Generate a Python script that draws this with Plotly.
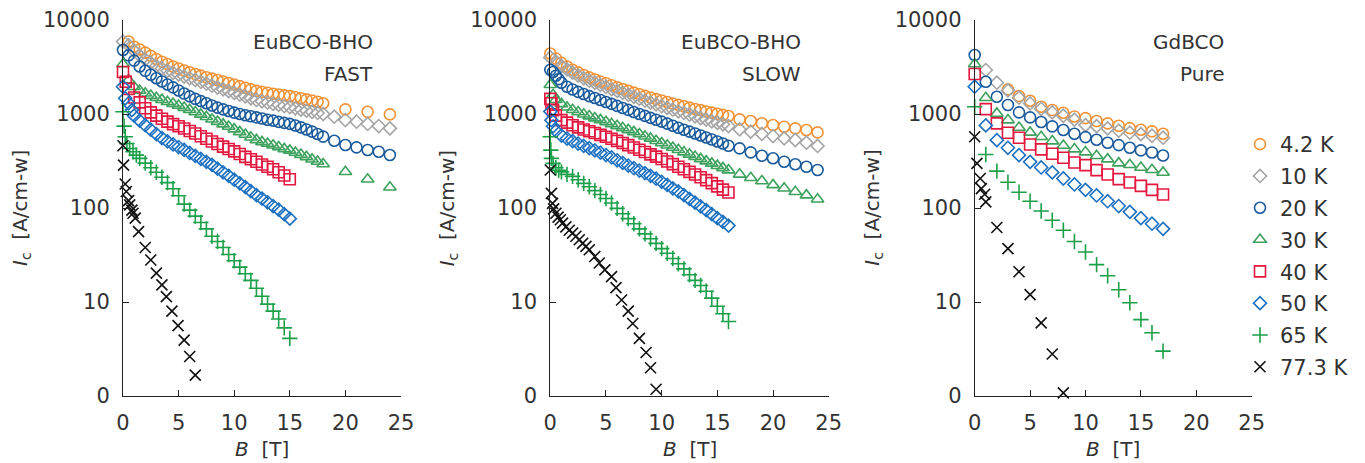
import plotly.graph_objects as go

# ---------------- categories / labels ----------------
temps = ["4.2 K", "10 K", "20 K", "30 K", "40 K", "50 K", "65 K", "77.3 K"]
panel_titles = [("EuBCO-BHO", "FAST"), ("EuBCO-BHO", "SLOW"), ("GdBCO", "Pure")]
y_tickvals = [1, 10, 100, 1000, 10000]
y_ticktext = ["0", "10", "100", "1000", "10000"]
x_tickvals = [0, 5, 10, 15, 20, 25]

# ---------------- panel 1 : EuBCO-BHO FAST ----------------
f_b_42 = [0.5, 1, 1.5, 2, 2.5, 3, 3.5, 4, 4.5, 5, 5.5, 6, 6.5, 7, 7.5, 8, 8.5, 9, 9.5, 10,
          10.5, 11, 11.5, 12, 12.5, 13, 13.5, 14, 14.5, 15, 15.5, 16, 16.5, 17, 17.5, 18, 20, 22, 24]
f_ic_42 = [5900, 5200, 4850, 4500, 4150, 3850, 3600, 3400, 3200, 3050, 2900, 2780, 2660, 2560, 2460,
           2380, 2300, 2220, 2140, 2060, 1980, 1900, 1830, 1760, 1720, 1680, 1640, 1610, 1580, 1550,
           1510, 1470, 1430, 1390, 1350, 1300, 1120, 1055, 990]
f_b_10 = [0, 0.5, 1, 1.5, 2, 2.5, 3, 3.5, 4, 4.5, 5, 5.5, 6, 6.5, 7, 7.5, 8, 8.5, 9, 9.5, 10,
          10.5, 11, 11.5, 12, 12.5, 13, 13.5, 14, 14.5, 15, 15.5, 16, 16.5, 17, 17.5, 18,
          19, 20, 21, 22, 23, 24]
f_ic_10 = [5900, 5400, 4700, 4200, 3800, 3500, 3250, 3050, 2880, 2740, 2620, 2500, 2400, 2300, 2200,
           2100, 2000, 1910, 1830, 1750, 1680, 1610, 1540, 1470, 1410, 1365, 1325, 1285, 1250, 1215,
           1185, 1150, 1115, 1085, 1055, 1025, 1000, 936, 863, 828, 783, 745, 704]
f_b_20 = f_b_10
f_ic_20 = [4800, 4200, 3700, 3200, 2880, 2620, 2400, 2220, 2060, 1920, 1780, 1650, 1540, 1450, 1370,
           1300, 1230, 1170, 1120, 1075, 1035, 1000, 970, 945, 920, 895, 870, 850, 825, 805,
           785, 755, 720, 685, 650, 612, 574, 520, 468, 442, 414, 397, 366]
f_b_30 = [0, 0.5, 1, 1.5, 2, 2.5, 3, 3.5, 4, 4.5, 5, 5.5, 6, 6.5, 7, 7.5, 8, 8.5, 9, 9.5, 10,
          10.5, 11, 11.5, 12, 12.5, 13, 13.5, 14, 14.5, 15, 15.5, 16, 16.5, 17, 17.5, 18, 20, 22, 24]
f_ic_30 = [3400, 2300, 1950, 1780, 1660, 1570, 1490, 1420, 1350, 1290, 1230, 1170, 1110, 1050, 990,
           935, 880, 830, 780, 735, 690, 645, 605, 565, 530, 505, 485, 465, 445, 425,
           410, 390, 370, 350, 330, 312, 294, 243, 202, 166]
f_b_40 = [0, 0.25, 0.5, 1, 1.5, 2, 2.5, 3, 3.5, 4, 4.5, 5, 5.5, 6, 6.5, 7, 7.5, 8, 8.5, 9, 9.5,
          10, 10.5, 11, 11.5, 12, 12.5, 13, 13.5, 14, 14.5, 15]
f_ic_40 = [2800, 2200, 1850, 1500, 1330, 1150, 1040, 960, 890, 830, 780, 740, 700, 660, 620, 580,
           545, 510, 480, 450, 425, 400, 375, 350, 330, 310, 290, 275, 258, 240, 222, 202]
f_b_50 = [0, 0.2, 0.5, 0.8, 1, 1.5, 2, 2.5, 3, 3.5, 4, 4.5, 5, 5.5, 6, 6.5, 7, 7.5, 8, 8.5, 9,
          9.5, 10, 10.5, 11, 11.5, 12, 12.5, 13, 13.5, 14, 14.5, 15]
f_ic_50 = [1950, 1470, 1300, 1100, 960, 850, 760, 680, 610, 555, 510, 475, 445, 415, 385, 358,
           333, 310, 288, 262, 240, 220, 200, 183, 167, 151, 137, 126, 115, 105, 96, 86, 77]
f_b_65 = [0, 0.1, 0.2, 0.35, 0.6, 0.9, 1.2, 1.5, 2, 2.5, 3, 3.5, 4, 4.5, 5, 5.5, 6, 6.5, 7, 7.5,
          8, 8.5, 9, 9.5, 10, 10.5, 11, 11.5, 12, 12.5, 13, 13.5, 14, 14.5, 15]
f_ic_65 = [1057, 743, 573, 486, 430, 396, 365, 337, 300, 268, 240, 212, 186, 160, 135, 110, 95, 82,
           70, 60, 50, 44, 38, 32, 27.5, 23.5, 20, 17, 14, 11.5, 9.5, 8, 6.6, 5.3, 4.1]
f_b_77 = [0, 0.05, 0.2, 0.3, 0.5, 0.6, 0.8, 0.9, 1.1, 1.4, 2.0, 2.5, 3.0, 3.5, 3.9, 4.4, 4.95,
          5.5, 6.0, 6.5]
f_ic_77 = [459, 286, 180, 150, 120, 108, 95, 88, 78, 56, 38, 28, 20.3, 15.2, 11.4, 8.0, 5.6,
           3.93, 2.63, 1.67]

# ---------------- panel 2 : EuBCO-BHO SLOW ----------------
s_b_42 = [0, 0.5, 1, 1.5, 2, 2.5, 3, 3.5, 4, 4.5, 5, 5.5, 6, 6.5, 7, 7.5, 8, 8.5, 9, 9.5, 10,
          10.5, 11, 11.5, 12, 12.5, 13, 13.5, 14, 14.5, 15, 15.5, 16, 17, 18, 19, 20, 21, 22, 23, 24]
s_ic_42 = [4400, 3900, 3500, 3200, 2950, 2770, 2600, 2450, 2330, 2220, 2120, 2020, 1920, 1840, 1760,
           1690, 1620, 1560, 1500, 1440, 1390, 1340, 1290, 1250, 1210, 1170, 1130, 1100, 1065, 1035,
           1005, 978, 953, 877, 843, 796, 764, 733, 704, 676, 638]
s_b_10 = s_b_42
s_ic_10 = [4000, 3600, 3250, 2980, 2750, 2560, 2400, 2260, 2140, 2040, 1940, 1840, 1760, 1680, 1600,
           1520, 1450, 1385, 1320, 1265, 1210, 1160, 1110, 1065, 1025, 985, 945, 905, 870, 835,
           805, 775, 745, 687, 649, 613, 583, 551, 529, 495, 457]
s_b_20 = [0, 0.25, 0.5, 0.75, 1, 1.5, 2, 2.5, 3, 3.5, 4, 4.5, 5, 5.5, 6, 6.5, 7, 7.5, 8, 8.5, 9,
          9.5, 10, 10.5, 11, 11.5, 12, 12.5, 13, 13.5, 14, 14.5, 15, 15.5, 16,
          17, 18, 19, 20, 21, 22, 23, 24]
s_ic_20 = [2950, 2800, 2550, 2350, 2150, 1950, 1820, 1720, 1630, 1550, 1480, 1410, 1340, 1280, 1220,
           1160, 1105, 1050, 1000, 955, 910, 870, 830, 790, 750, 715, 680, 650, 620, 590, 562, 535,
           510, 485, 460, 431, 391, 360, 338, 311, 292, 275, 254]
s_b_30 = [0, 0.25, 0.5, 1, 1.5, 2, 2.5, 3, 3.5, 4, 4.5, 5, 5.5, 6, 6.5, 7, 7.5, 8, 8.5, 9,
          9.5, 10, 10.5, 11, 11.5, 12, 12.5, 13, 13.5, 14, 14.5, 15, 15.5, 16,
          17, 18, 19, 20, 21, 22, 23, 24]
s_ic_30 = [2050, 1600, 1420, 1280, 1180, 1110, 1050, 995, 950, 905, 865, 825, 785, 748, 712, 678,
           645, 612, 580, 550, 520, 492, 465, 440, 416, 393, 372, 352, 333, 315, 298, 282, 267, 253,
           228, 210, 194, 176, 162, 149, 137, 124]
s_b_40 = [0, 0.1, 0.25, 0.5, 1, 1.5, 2, 2.5, 3, 3.5, 4, 4.5, 5, 5.5, 6, 6.5, 7, 7.5, 8, 8.5, 9,
          9.5, 10, 10.5, 11, 11.5, 12, 12.5, 13, 13.5, 14, 14.5, 15, 15.5, 16]
s_ic_40 = [1450, 1300, 1100, 960, 860, 810, 760, 720, 685, 655, 628, 600, 572, 545, 518, 492, 466,
           440, 416, 394, 372, 352, 332, 312, 293, 275, 258, 242, 227, 212, 198, 184, 170, 157, 146]
s_b_50 = s_b_40
s_ic_50 = [1060, 860, 740, 660, 590, 548, 515, 485, 458, 434, 410, 388, 366, 345, 322, 302, 283,
           265, 250, 235, 220, 205, 190, 176, 162, 150, 137, 125, 114, 104, 95, 86, 78, 71, 65]
s_b_65 = [0, 0.05, 0.1, 0.25, 0.5, 0.75, 1, 1.5, 2, 2.5, 3, 3.5, 4, 4.5, 5, 5.5, 6, 6.5, 7, 7.5,
          8, 8.5, 9, 9.5, 10, 10.5, 11, 11.5, 12, 12.5, 13, 13.5, 14, 14.5, 15, 15.5, 16]
s_ic_65 = [573, 413, 337, 298, 268, 252, 242, 228, 217, 200, 183, 168, 153, 139, 126, 113, 99, 87,
           77, 68, 60, 53, 47, 42, 37, 33, 29, 25.5, 22.5, 19.5, 17, 15, 13, 11, 9, 7.5, 6.2]
s_b_77 = [0, 0.1, 0.2, 0.3, 0.5, 0.7, 0.9, 1.1, 1.4, 1.7, 2.0, 2.3, 2.6, 2.9, 3.2, 3.5, 4.0, 4.4,
          4.9, 5.5, 5.9, 6.4, 7.0, 7.4, 8.0, 8.6, 9.0, 9.5]
s_ic_77 = [254, 143, 112, 98, 88, 80, 75, 69, 63, 58, 54, 50, 46, 42, 39, 36, 30.5, 26, 22, 18.6,
           14.2, 10.5, 8.0, 5.9, 4.1, 2.9, 2.0, 1.18]

# ---------------- panel 3 : GdBCO Pure ----------------
g_b_42 = [3, 4, 5, 6, 7, 8, 9, 10, 11, 12, 13, 14, 15, 16, 17]
g_ic_42 = [1830, 1552, 1384, 1194, 1101, 1031, 942, 905, 841, 795, 750, 708, 679, 653, 616]
g_b_10 = [1, 2, 3, 4, 5, 6, 7, 8, 9, 10, 11, 12, 13, 14, 15, 16, 17]
g_ic_10 = [2936, 2151, 1783, 1490, 1297, 1137, 1040, 958, 870, 762, 743, 703, 664, 632, 611, 587, 559]
g_b_all = [0, 1, 2, 3, 4, 5, 6, 7, 8, 9, 10, 11, 12, 13, 14, 15, 16, 17]
g_ic_20 = [4240, 2205, 1527, 1245, 1040, 920, 821, 738, 675, 616, 568, 532, 494, 467, 437, 410, 390, 362]
g_ic_30 = [3400, 1490, 1014, 861, 719, 637, 572, 515, 463, 423, 393, 359, 331, 300, 288, 270, 255, 239]
g_ic_40 = [2661, 1128, 795, 631, 559, 474, 420, 378, 342, 305, 286, 253, 227, 203, 187, 172, 156, 139]
g_ic_50 = [1950, 756, 527, 437, 365, 310, 270, 239, 206, 178, 156, 136, 118, 105, 91, 78, 68, 60]
g_ic_65 = [1195, 371, 247, 188, 147, 118, 93, 74, 58, 44, 34, 25, 19, 13.5, 9.8, 6.5, 4.7, 3.0]
g_b_77 = [0, 0.2, 0.5, 0.6, 0.9, 1.0, 2, 3, 4, 5, 6, 7, 8]
g_ic_77 = [573, 298, 206, 161, 140, 116, 62, 37, 21, 12, 6.0, 2.8, 1.08]

# ---------------- styles ----------------
colors = ["#F29237", "#A5A5A5", "#1B5B9C", "#3EA25E", "#E4173F", "#1C70C1", "#1BA049", "#111111"]
symbols = ["circle-open", "diamond-open", "circle-open", "triangle-up-open",
           "square-open", "diamond-open", "cross-thin-open", "x-thin-open"]
sizes = [11, 10, 11, 11, 11, 10, 11, 11]

panels = [
    [(f_b_42, f_ic_42), (f_b_10, f_ic_10), (f_b_20, f_ic_20), (f_b_30, f_ic_30),
     (f_b_40, f_ic_40), (f_b_50, f_ic_50), (f_b_65, f_ic_65), (f_b_77, f_ic_77)],
    [(s_b_42, s_ic_42), (s_b_10, s_ic_10), (s_b_20, s_ic_20), (s_b_30, s_ic_30),
     (s_b_40, s_ic_40), (s_b_50, s_ic_50), (s_b_65, s_ic_65), (s_b_77, s_ic_77)],
    [(g_b_42, g_ic_42), (g_b_10, g_ic_10), (g_b_all, g_ic_20), (g_b_all, g_ic_30),
     (g_b_all, g_ic_40), (g_b_all, g_ic_50), (g_b_all, g_ic_65), (g_b_77, g_ic_77)],
]

W, H = 1365, 463
FONT = "DejaVu Sans"
TXT = "#333333"
AX = "#222222"

# pixel geometry -> paper fractions
x_dom_px = [(123, 401), (550.3, 828.7), (974.7, 1251.7)]
y_top_px, y_bot_px = 20, 396
ydom = [(H - y_bot_px) / H, (H - y_top_px) / H]

fig = go.Figure()
for p, series in enumerate(panels):
    xa = "x" if p == 0 else f"x{p+1}"
    ya = "y" if p == 0 else f"y{p+1}"
    for i, (bx, iy) in enumerate(series):
        fig.add_trace(go.Scatter(
            x=bx, y=iy, mode="markers", name=temps[i],
            xaxis=xa, yaxis=ya, cliponaxis=False,
            legendgroup=temps[i], showlegend=(p == 2),
            marker=dict(symbol=symbols[i], size=sizes[i], color=colors[i],
                        line=dict(width=1.6, color=colors[i])),
        ))

layout = dict(
    width=W, height=H, paper_bgcolor="white", plot_bgcolor="white",
    margin=dict(l=0, r=0, t=0, b=0),
    font=dict(family=FONT, size=21, color=TXT),
    legend=dict(x=1240 / W, y=(H - 124) / H, xanchor="left", yanchor="top",
                font=dict(size=21, color=TXT), tracegroupgap=1.5,
                bgcolor="rgba(0,0,0,0)", itemwidth=30),
)
annotations = []
for p in range(3):
    sfx = "" if p == 0 else str(p + 1)
    x0, x1 = x_dom_px[p]
    layout[f"xaxis{sfx}"] = dict(
        domain=[x0 / W, x1 / W], range=[0, 25], anchor=f"y{sfx}",
        tickvals=x_tickvals, ticks="inside", ticklen=6, tickcolor=AX,
        showline=True, linecolor=AX, linewidth=1, showgrid=False, zeroline=False,
        tickfont=dict(family=FONT, size=21, color=TXT), ticklabelstandoff=8,
        automargin=False)
    layout[f"yaxis{sfx}"] = dict(
        domain=ydom, type="log", range=[0, 4], anchor=f"x{sfx}",
        tickvals=y_tickvals, ticktext=y_ticktext, ticks="inside", ticklen=6, tickcolor=AX,
        showline=True, linecolor=AX, linewidth=1, showgrid=False, zeroline=False,
        tickfont=dict(family=FONT, size=21, color=TXT), ticklabelstandoff=8,
        automargin=False)
    # x axis title
    annotations.append(dict(text="<i>B</i>  [T]", xref="paper", yref="paper",
                            x=(x0 + x1) / 2 / W, y=(H - 449) / H, xanchor="center",
                            yanchor="middle", showarrow=False,
                            font=dict(family=FONT, size=20, color=TXT)))
    # y axis title
    annotations.append(dict(text="<i>I</i><sub>c</sub>  [A/cm-w]", xref="paper", yref="paper",
                            x=(x0 - 102) / W, y=(H - 208) / H, xanchor="center",
                            yanchor="middle", textangle=-90, showarrow=False,
                            font=dict(family=FONT, size=20, color=TXT)))
    # panel labels
    for k, txt in enumerate(panel_titles[p]):
        annotations.append(dict(text=txt, xref="paper", yref="paper",
                                x=(x1 - 26) / W, y=(H - (42 + 32 * k)) / H,
                                xanchor="right", yanchor="middle", showarrow=False,
                                font=dict(family=FONT, size=20, color=TXT)))
layout["annotations"] = annotations
fig.update_layout(**layout)
fig.write_html("out.html", config={"displayModeBar": False},
               post_script="document.body.style.margin='0';document.body.style.overflow='hidden';")
